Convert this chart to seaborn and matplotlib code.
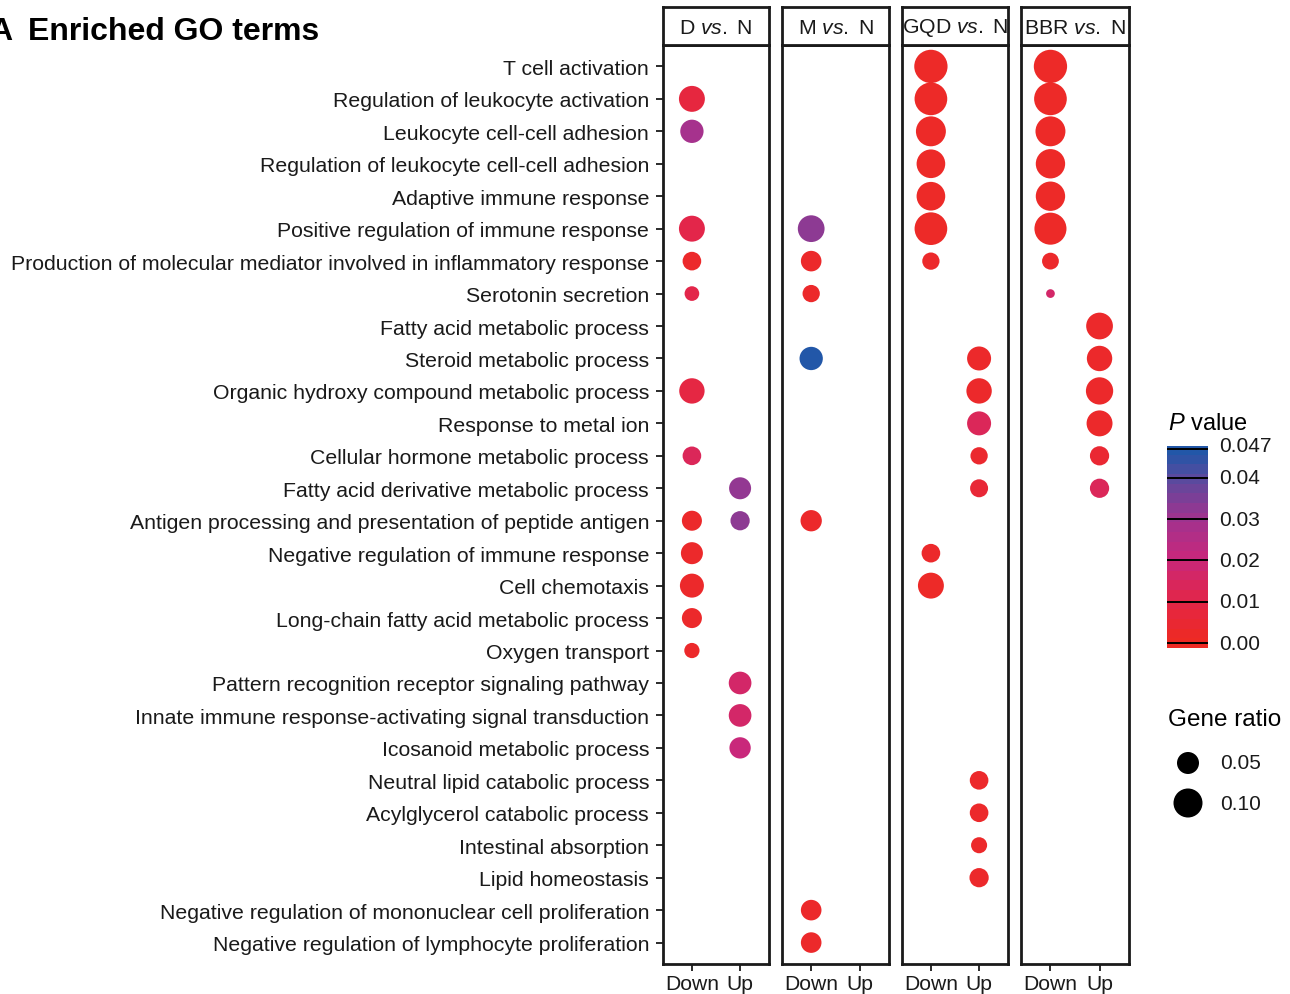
import numpy as np
import pandas as pd
import matplotlib
matplotlib.use('Agg')
import matplotlib.pyplot as plt
from matplotlib.colors import LinearSegmentedColormap, Normalize
import seaborn as sns

# GO terms, top to bottom
terms = [
    'T cell activation',
    'Regulation of leukocyte activation',
    'Leukocyte cell-cell adhesion',
    'Regulation of leukocyte cell-cell adhesion',
    'Adaptive immune response',
    'Positive regulation of immune response',
    'Production of molecular mediator involved in inflammatory response',
    'Serotonin secretion',
    'Fatty acid metabolic process',
    'Steroid metabolic process',
    'Organic hydroxy compound metabolic process',
    'Response to metal ion',
    'Cellular hormone metabolic process',
    'Fatty acid derivative metabolic process',
    'Antigen processing and presentation of peptide antigen',
    'Negative regulation of immune response',
    'Cell chemotaxis',
    'Long-chain fatty acid metabolic process',
    'Oxygen transport',
    'Pattern recognition receptor signaling pathway',
    'Innate immune response-activating signal transduction',
    'Icosanoid metabolic process',
    'Neutral lipid catabolic process',
    'Acylglycerol catabolic process',
    'Intestinal absorption',
    'Lipid homeostasis',
    'Negative regulation of mononuclear cell proliferation',
    'Negative regulation of lymphocyte proliferation',
]
comparisons = ['D', 'M', 'GQD', 'BBR']
directions = ['Down', 'Up']

# gene ratio / P value per term (1-based row), one dict per comparison and direction
d_down_ratio = {2: 0.076, 3: 0.058, 6: 0.076, 7: 0.032, 8: 0.016, 11: 0.072, 13: 0.032,
                15: 0.039, 16: 0.050, 17: 0.0625, 18: 0.039, 19: 0.018}
d_down_p = {2: 0.007, 3: 0.029, 6: 0.010, 7: 0.002, 8: 0.010, 11: 0.008, 13: 0.013,
            15: 0.002, 16: 0.002, 17: 0.002, 18: 0.002, 19: 0.002}
d_up_ratio = {14: 0.050, 15: 0.035, 20: 0.054, 21: 0.054, 22: 0.046}
d_up_p = {14: 0.032, 15: 0.033, 20: 0.016, 21: 0.016, 22: 0.020}

m_down_ratio = {6: 0.082, 7: 0.042, 8: 0.026, 10: 0.058, 15: 0.046, 27: 0.042, 28: 0.042}
m_down_p = {6: 0.033, 7: 0.002, 8: 0.002, 10: 0.047, 15: 0.002, 27: 0.002, 28: 0.002}
m_up_ratio = {}
m_up_p = {}

gqd_down_ratio = {1: 0.139, 2: 0.133, 3: 0.108, 4: 0.097, 5: 0.097, 6: 0.133, 7: 0.026,
                  16: 0.032, 17: 0.076}
gqd_down_p = {1: 0.001, 2: 0.001, 3: 0.001, 4: 0.001, 5: 0.001, 6: 0.001, 7: 0.002,
              16: 0.002, 17: 0.001}
gqd_up_ratio = {10: 0.0625, 11: 0.072, 12: 0.0625, 13: 0.026, 14: 0.029, 23: 0.032,
                24: 0.032, 25: 0.021, 26: 0.035}
gqd_up_p = {10: 0.002, 11: 0.002, 12: 0.013, 13: 0.003, 14: 0.005, 23: 0.002,
            24: 0.002, 25: 0.002, 26: 0.002}

bbr_down_ratio = {1: 0.139, 2: 0.133, 3: 0.108, 4: 0.103, 5: 0.103, 6: 0.127, 7: 0.024,
                  8: 0.0023}
bbr_down_p = {1: 0.001, 2: 0.001, 3: 0.001, 4: 0.001, 5: 0.001, 6: 0.001, 7: 0.002,
              8: 0.016}
bbr_up_ratio = {9: 0.082, 10: 0.072, 11: 0.086, 12: 0.076, 13: 0.035, 14: 0.035}
bbr_up_p = {9: 0.002, 10: 0.002, 11: 0.002, 12: 0.002, 13: 0.004, 14: 0.013}

groups = {
    ('D', 'Down'): (d_down_ratio, d_down_p), ('D', 'Up'): (d_up_ratio, d_up_p),
    ('M', 'Down'): (m_down_ratio, m_down_p), ('M', 'Up'): (m_up_ratio, m_up_p),
    ('GQD', 'Down'): (gqd_down_ratio, gqd_down_p), ('GQD', 'Up'): (gqd_up_ratio, gqd_up_p),
    ('BBR', 'Down'): (bbr_down_ratio, bbr_down_p), ('BBR', 'Up'): (bbr_up_ratio, bbr_up_p),
}

rows = []
for (comp, direc), (ratio, pval) in groups.items():
    for k in ratio:
        rows.append({'comparison': comp, 'direction': direc, 'term': terms[k - 1],
                     'ratio': ratio[k], 'pvalue': pval[k]})
df = pd.DataFrame(rows)
df['y'] = df['term'].map({t: i for i, t in enumerate(terms)})
df['x'] = df['direction'].map({d: i for i, d in enumerate(directions)})


# dot diameter (px) grows with sqrt of gene ratio -> marker area in pt^2
def dot_area(r):
    return (0.72 * (5.1 + 75.6 * np.sqrt(r))) ** 2


df['dot'] = dot_area(df['ratio'])
size_lim = (dot_area(0.001), dot_area(0.2))

pmax = 0.047
cmap = LinearSegmentedColormap.from_list('pval', [
    (0.0, '#EE2A24'), (0.21, '#E3264A'), (0.43, '#C8287C'),
    (0.64, '#A1338F'), (0.85, '#5E4A9E'), (1.0, '#2257A8')])

sns.set_style('white')
plt.rcParams['font.family'] = ['Liberation Sans', 'DejaVu Sans']
plt.rcParams['mathtext.fontset'] = 'custom'
plt.rcParams['mathtext.rm'] = 'Liberation Sans'
plt.rcParams['mathtext.it'] = 'Liberation Sans:italic'

W, H = 1290, 995
fig = plt.figure(figsize=(W / 100, H / 100), dpi=100)


def fx(px):
    return px / W


def fy(py):
    return 1 - py / H


ink = '#1a1a1a'
panel_x = [(663, 769), (782, 889), (902, 1008), (1021, 1129)]
top, bottom, strip_top = 46, 965, 8
n = len(terms)

for i, comp in enumerate(comparisons):
    x0, x1 = panel_x[i]
    ax = fig.add_axes([fx(x0), fy(bottom), (x1 - x0) / W, (bottom - top) / H])
    sub = df[df['comparison'] == comp]
    if len(sub):
        sns.scatterplot(data=sub, x='x', y='y', hue='pvalue', palette=cmap,
                        hue_norm=(0, pmax), size='dot', sizes=size_lim,
                        size_norm=size_lim, linewidth=0, legend=False, ax=ax)
    ax.set_xlim(-0.6, 1.6)
    ax.set_ylim(n - 1 + 0.66, -0.66)
    ax.set_xticks(range(len(directions)))
    ax.set_xticklabels(directions, fontsize=15.2, color=ink)
    ax.set_xlabel('')
    ax.set_ylabel('')
    if i == 0:
        ax.set_yticks(range(n))
        ax.set_yticklabels(terms, fontsize=15.3, color=ink)
        ax.tick_params(axis='y', length=5, width=1.3, color=ink, pad=5, left=True)
    else:
        ax.set_yticks([])
    ax.tick_params(axis='x', length=5, width=1.3, color=ink, pad=2, bottom=True)
    for s in ax.spines.values():
        s.set_visible(True)
        s.set_linewidth(2.0)
        s.set_color(ink)

    sax = fig.add_axes([fx(x0), fy(top), (x1 - x0) / W, (top - strip_top) / H])
    sax.set_xticks([])
    sax.set_yticks([])
    for s in sax.spines.values():
        s.set_linewidth(2.0)
        s.set_color(ink)
    sax.text(0.5, 0.47, r'$\mathrm{' + comp + r'}\ \mathit{vs.}\ \mathrm{N}$',
             ha='center', va='center', fontsize=15.3, color=ink, transform=sax.transAxes)

# title (panel letter partly cut off at the left edge, as in the source figure)
fig.text(fx(-11), fy(40), 'A', fontsize=23, fontweight='bold', color='black', va='baseline')
fig.text(fx(28), fy(40), 'Enriched GO terms', fontsize=23, fontweight='bold',
         color='black', va='baseline')

# P value colour bar
fig.text(fx(1168), fy(424), r'$\mathit{P}$ value', fontsize=17, color='black', va='center')
cax = fig.add_axes([fx(1167), fy(649), 41 / W, (649 - 447) / H])
lo_v, hi_v = -0.0012, 0.0477
grad = np.linspace(lo_v, hi_v, 21).reshape(-1, 1)
cax.imshow(grad, extent=[0, 1, lo_v, hi_v], origin='lower', aspect='auto',
           cmap=cmap, norm=Normalize(0, pmax), interpolation='nearest')
cax.set_xlim(0, 1)
cax.set_ylim(lo_v, hi_v)
cticks = [0.0, 0.01, 0.02, 0.03, 0.04, 0.047]
ctick_labels = ['0.00', '0.01', '0.02', '0.03', '0.04', '0.047']
for v in cticks:
    cax.axhline(v, color='black', lw=1.4)
cax.set_xticks([])
cax.set_yticks([])
for s in cax.spines.values():
    s.set_visible(False)
for v, lab in zip(cticks, ctick_labels):
    yy = fy(649) + (v - lo_v) / (hi_v - lo_v) * (649 - 447) / H
    if lab == '0.047':
        yy += 3 / H
    fig.text(fx(1219), yy, lab, fontsize=15, color=ink, va='center')

# Gene ratio legend
fig.text(fx(1168), fy(720), 'Gene ratio', fontsize=17.5, color='black', va='center')
leg_ratio = [0.05, 0.10]
leg_y = [764, 804]
lax = fig.add_axes([0, 0, 1, 1], facecolor='none')
lax.set_xlim(0, W)
lax.set_ylim(H, 0)
lax.axis('off')
sns.scatterplot(x=[1188] * len(leg_ratio), y=leg_y, size=[dot_area(r) for r in leg_ratio],
                sizes=size_lim, size_norm=size_lim, color='black', linewidth=0,
                legend=False, ax=lax)
for r, yy in zip(leg_ratio, leg_y):
    fig.text(fx(1220), fy(yy), f'{r:.2f}', fontsize=15, color=ink, va='center')

fig.savefig('out.png', dpi=100)
